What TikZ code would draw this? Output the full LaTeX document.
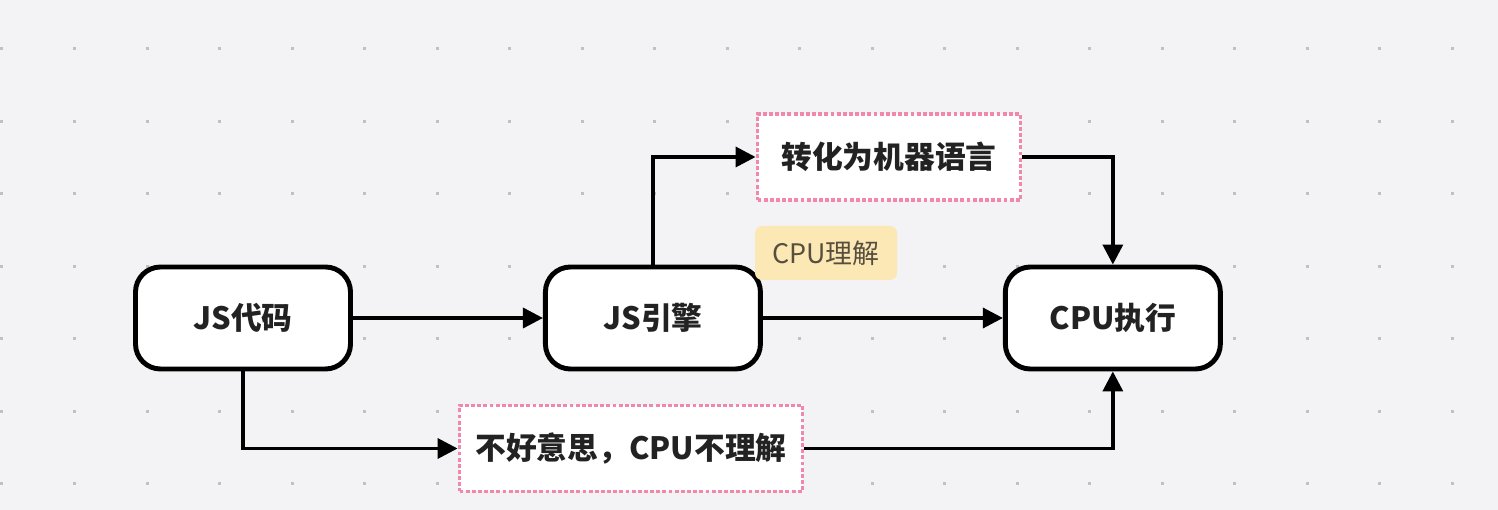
\documentclass[tikz,border=0pt]{standalone}
\usepackage{fontspec}
\setmainfont{Noto Sans CJK SC}
\usepackage{tikz}
\usetikzlibrary{
  arrows.meta,
  positioning,
  calc
}
\definecolor{fundo}{RGB}{243,243,245}
\definecolor{ponto}{RGB}{192,192,197}
\definecolor{rosa}{RGB}{242,135,172}
\definecolor{amarelo}{RGB}{252,232,180}
\definecolor{textonota}{RGB}{88,78,62}
\definecolor{texto}{RGB}{34,34,34}

\begin{document}
\begin{tikzpicture}[
      caixa/.style={draw=black, line width=2.8pt, fill=white, rounded corners=0.5cm, minimum width=4.3cm, minimum height=2.04cm, align=center, text=texto, font=\fontsize{17.5}{20}\selectfont\bfseries},
      tracejada/.style={draw=rosa, line width=2.2pt, dash pattern=on 2.2pt off 1.3pt, fill=white, minimum height=1.72cm, align=center, text=texto, font=\fontsize{17.5}{20}\selectfont\bfseries},
      nota/.style={fill=amarelo, rounded corners=4pt, minimum width=2.84cm, minimum height=1.08cm, text=textonota, font=\fontsize{15.3}{18}\selectfont},
      seta/.style={-{Triangle[length=0.4cm, width=0.4cm]}, line width=2pt, black}
  ]
    % Fundo com grade de pontos
    \fill [fundo] (0,0) rectangle (29.96,-10.2);
    \useasboundingbox (0,0) rectangle (29.96,-10.2);
    \foreach \i in {0,...,20}
      \foreach \j in {0,...,6}
        \fill [ponto] ($(0.04+1.45*\i,-0.98-1.45*\j)+(-0.03,-0.03)$) rectangle +(0.06,0.06);

    \node [caixa] (codigo) at (4.86,-6.36) {JS代码};
    \node [caixa, right=3.8cm of codigo] (motor) {JS引擎};
    \node [caixa, right=4.8cm of motor] (cpu) {CPU执行};

    \node [tracejada, minimum width=5.26cm] (maquina) at (17.78,-3.14) {转化为机器语言};
    \node [tracejada, minimum width=6.86cm] (erro) at (12.62,-8.97) {不好意思，CPU不理解};
    \node [nota] (entende) at (16.52,-5.06) {CPU理解};

    \draw [seta] (codigo) -- (motor);
    \draw [seta] (motor) -- (cpu);

    % Caminho de cima
    \draw [seta] (motor.north) |- (maquina.west);
    \draw [seta] (maquina.east) -| (cpu.north);

    % Caminho de baixo
    \draw [seta] (codigo.south) |- (erro.west);
    \draw [seta] (erro.east) -| (cpu.south);
  \end{tikzpicture}
\end{document}
